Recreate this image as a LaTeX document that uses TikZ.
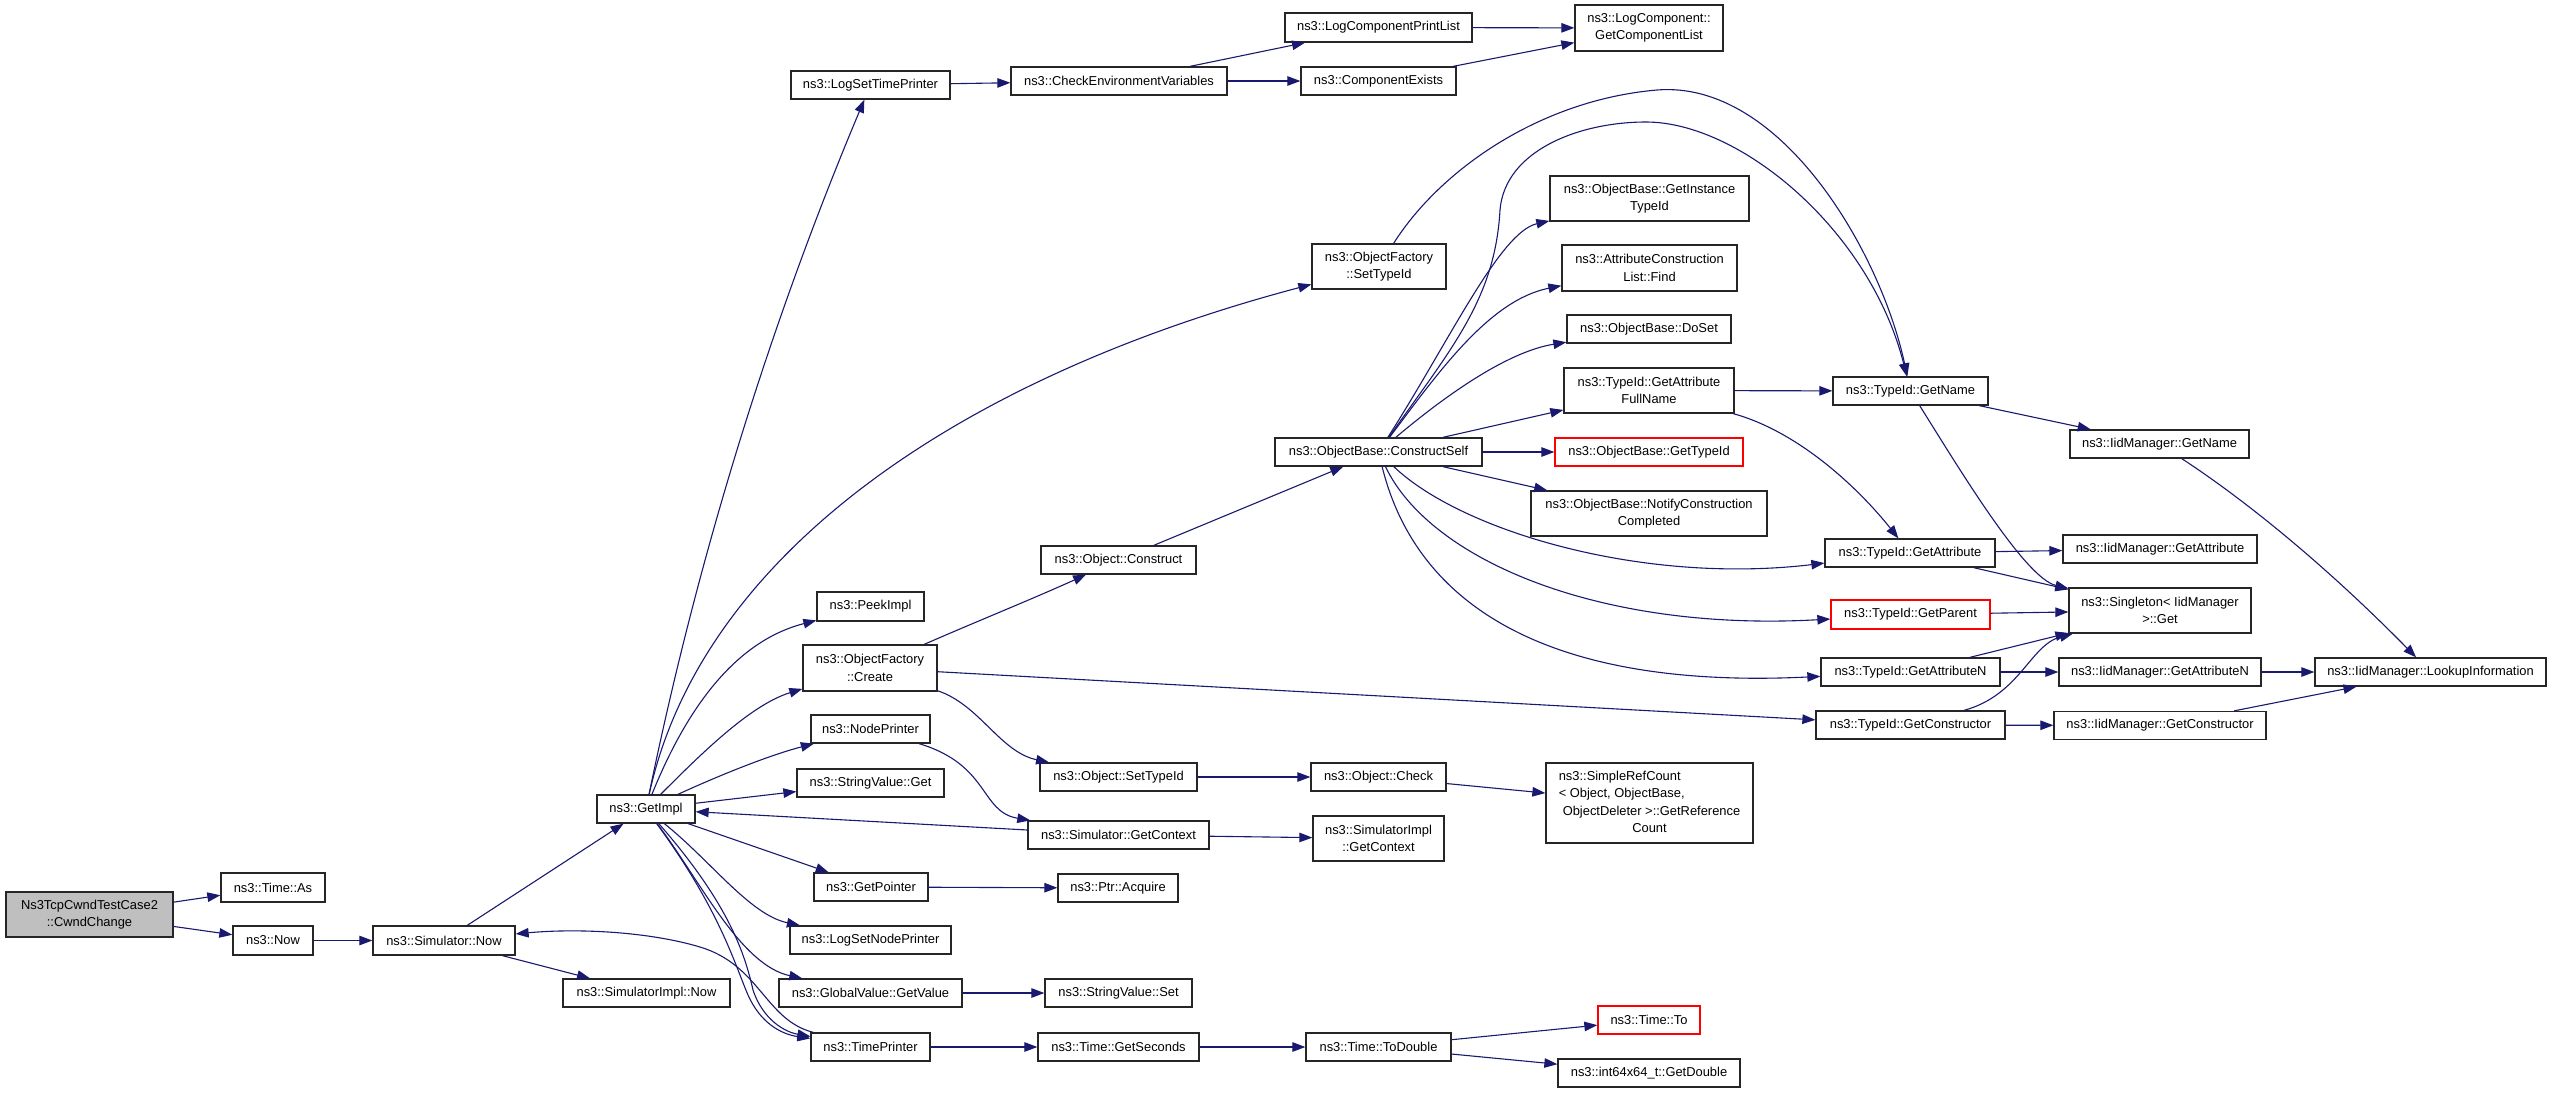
\documentclass[tikz,border=0pt]{standalone}
\usepackage{fontspec}
\setmainfont{Liberation Sans}
\usetikzlibrary{arrows.meta}
\definecolor{edgeblue}{HTML}{191970}
\definecolor{nodegray}{HTML}{BFBFBF}
\definecolor{boxred}{HTML}{FF0000}
\tikzset{
  gbox/.style={draw=black!85, line width=1.3bp, fill=white, inner sep=0pt, align=center,
    font=\fontsize{12.9bp}{17.3bp}\selectfont},
  rbox/.style={gbox, draw=boxred},
  sbox/.style={gbox, fill=nodegray},
  call/.style={draw=edgeblue, line width=1.1bp, -{Triangle[length=13bp,width=9.5bp]}},
}
\newcommand\gnode[6]{\node[#1, minimum width=#4bp, minimum height=#5bp] (#2) at (#3) {#6};}
\begin{document}
\begin{tikzpicture}[x=1bp,y=-1bp]
\fill[white] (0,0) rectangle (2552,1093);
\useasboundingbox (0,0) rectangle (2552,1093);
% rank 0-3
\gnode{sbox}{ns3tcp}{89.5,914.5}{167}{45}{Ns3TcpCwndTestCase2\\::CwndChange}
\gnode{gbox}{timeas}{273,887.5}{104}{29}{ns3::Time::As}
\gnode{gbox}{now}{273,940.5}{80}{29}{ns3::Now}
\gnode{gbox}{simnow}{444,940.5}{142}{29}{ns3::Simulator::Now}
\gnode{gbox}{getimpl}{646,809}{98}{28}{ns3::GetImpl}
\gnode{gbox}{simimplnow}{646.5,993}{167}{28}{ns3::SimulatorImpl::Now}
% rank 4
\gnode{gbox}{lst}{870.5,85}{159}{28}{ns3::LogSetTimePrinter}
\gnode{gbox}{peekimpl}{870.5,606.5}{107}{29}{ns3::PeekImpl}
\gnode{gbox}{ofcreate}{870,668}{134}{46}{ns3::ObjectFactory\\::Create}
\gnode{gbox}{nodeprinter}{870.5,729}{119}{28}{ns3::NodePrinter}
\gnode{gbox}{svget}{870.5,783}{147}{28}{ns3::StringValue::Get}
\gnode{gbox}{getpointer}{871,887}{114}{28}{ns3::GetPointer}
\gnode{gbox}{lsnp}{870.5,940}{161}{28}{ns3::LogSetNodePrinter}
\gnode{gbox}{gvgetvalue}{870.5,993}{183}{28}{ns3::GlobalValue::GetValue}
\gnode{gbox}{timeprinter}{870.5,1047}{119}{28}{ns3::TimePrinter}
% rank 5
\gnode{gbox}{cev}{1119,81}{216}{28}{ns3::CheckEnvironmentVariables}
\gnode{gbox}{objconstruct}{1118.5,560}{155}{28}{ns3::Object::Construct}
\gnode{gbox}{objsettypeid}{1118.5,777}{157}{28}{ns3::Object::SetTypeId}
\gnode{gbox}{simgetcontext}{1118.5,835}{181}{28}{ns3::Simulator::GetContext}
\gnode{gbox}{ptracquire}{1118,888}{120}{28}{ns3::Ptr::Acquire}
\gnode{gbox}{svset}{1118.5,993}{147}{28}{ns3::StringValue::Set}
\gnode{gbox}{getseconds}{1118.5,1047}{161}{28}{ns3::Time::GetSeconds}
% rank 6
\gnode{gbox}{lcpl}{1378.5,27.5}{187}{29}{ns3::LogComponentPrintList}
\gnode{gbox}{compexists}{1378.5,81}{155}{28}{ns3::ComponentExists}
\gnode{gbox}{ofsettypeid}{1379,266.5}{134}{45}{ns3::ObjectFactory\\::SetTypeId}
\gnode{gbox}{constructself}{1378.5,452}{207}{28}{ns3::ObjectBase::ConstructSelf}
\gnode{gbox}{objcheck}{1378.5,777}{135}{28}{ns3::Object::Check}
\gnode{gbox}{simimplgetctx}{1378.5,838.5}{131}{45}{ns3::SimulatorImpl\\::GetContext}
\gnode{gbox}{todouble}{1378.5,1047}{145}{28}{ns3::Time::ToDouble}
% rank 7
\gnode{gbox}{getcomplist}{1649,28}{148}{46}{ns3::LogComponent::\\GetComponentList}
\gnode{gbox}{getinsttypeid}{1649.5,198.5}{199}{45}{ns3::ObjectBase::GetInstance\\TypeId}
\gnode{gbox}{aclfind}{1649.5,268}{175}{46}{ns3::AttributeConstruction\\List::Find}
\gnode{gbox}{doset}{1649,329}{164}{28}{ns3::ObjectBase::DoSet}
\gnode{gbox}{gafn}{1649,390.5}{170}{45}{ns3::TypeId::GetAttribute\\FullName}
\gnode{rbox}{gettypeid}{1649,452}{188}{28}{ns3::ObjectBase::GetTypeId}
\gnode{gbox}{notifycc}{1649,513.5}{236}{45}{ns3::ObjectBase::NotifyConstruction\\Completed}
\gnode{gbox}{simplerefcount}{1649.5,803}{207}{80}{\begin{tabular}{@{}l@{}}ns3::SimpleRefCount\\< Object, ObjectBase,\\\hspace*{4bp}ObjectDeleter >::GetReference\\\multicolumn{1}{@{}c@{}}{Count}\end{tabular}}
\gnode{rbox}{timeto}{1649,1020}{102}{28}{ns3::Time::To}
\gnode{gbox}{int64}{1649,1073}{182}{28}{ns3::int64x64\_t::GetDouble}
% rank 8
\gnode{gbox}{tgetname}{1910.5,391}{155}{28}{ns3::TypeId::GetName}
\gnode{gbox}{tgetattr}{1910,553}{170}{28}{ns3::TypeId::GetAttribute}
\gnode{rbox}{tgetparent}{1910.5,614.5}{159}{29}{ns3::TypeId::GetParent}
\gnode{gbox}{tgetattrn}{1910.5,672}{179}{28}{ns3::TypeId::GetAttributeN}
\gnode{gbox}{tgetctor}{1910.5,725}{189}{28}{ns3::TypeId::GetConstructor}
% rank 9
\gnode{gbox}{igetname}{2159.5,444}{179}{28}{ns3::IidManager::GetName}
\gnode{gbox}{igetattr}{2160,549}{194}{28}{ns3::IidManager::GetAttribute}
\gnode{gbox}{singleton}{2160,610.5}{182}{45}{ns3::Singleton< IidManager\\>::Get}
\gnode{gbox}{igetattrn}{2160,672}{202}{28}{ns3::IidManager::GetAttributeN}
\gnode{gbox}{igetctor}{2160,725.5}{212}{28}{ns3::IidManager::GetConstructor}
% rank 10
\gnode{gbox}{lookup}{2430.5,672}{231}{28}{ns3::IidManager::LookupInformation}
% edges
\draw[call] (ns3tcp) -- (timeas);
\draw[call] (ns3tcp) -- (now);
\draw[call] (now) -- (simnow);
\draw[call] (simnow) -- (getimpl);
\draw[call] (simnow) -- (simimplnow);
\draw[call] (getimpl) .. controls (698,556) and (770,324) .. (lst);
\draw[call] (getimpl) .. controls (700,560) and (950,380) .. (ofsettypeid);
\draw[call] (getimpl) .. controls (690,700) and (740,640) .. (peekimpl);
\draw[call] (getimpl) .. controls (700,755) and (750,705) .. (ofcreate);
\draw[call] (getimpl) .. controls (720,775) and (770,755) .. (nodeprinter);
\draw[call] (getimpl) -- (svget);
\draw[call] (getimpl) -- (getpointer);
\draw[call] (getimpl) .. controls (710,860) and (750,915) .. (lsnp);
\draw[call] (getimpl) .. controls (700,880) and (740,965) .. (gvgetvalue);
\draw[call] (getimpl) .. controls (720,910) and (735,965) .. (748,995) .. controls (760,1022) and (780,1034) .. (timeprinter);
\draw[call] (getimpl) .. controls (730,905) and (745,955) .. (753,990) .. controls (763,1020) and (785,1032) .. (timeprinter);
\draw[call] (timeprinter) .. controls (765,1020) and (760,965) .. (700,947) .. controls (650,932) and (580,928) .. (simnow);
\draw[call] (simgetcontext) -- (getimpl);
\draw[call] (nodeprinter) .. controls (990,765) and (980,812) .. (simgetcontext);
\draw[call] (ofcreate) .. controls (980,620) and (1030,600) .. (objconstruct);
\draw[call] (ofcreate) .. controls (980,705) and (1000,752) .. (objsettypeid);
\draw[call] (ofcreate) -- (tgetctor);
\draw[call] (getpointer) -- (ptracquire);
\draw[call] (gvgetvalue) -- (svset);
\draw[call] (timeprinter) -- (getseconds);
\draw[call] (lst) -- (cev);
\draw[call] (cev) -- (lcpl);
\draw[call] (cev) -- (compexists);
\draw[call] (lcpl) -- (getcomplist);
\draw[call] (compexists) -- (getcomplist);
\draw[call] (objconstruct) -- (constructself);
\draw[call] (objsettypeid) -- (objcheck);
\draw[call] (simgetcontext) -- (simimplgetctx);
\draw[call] (getseconds) -- (todouble);
\draw[call] (objcheck) -- (simplerefcount);
\draw[call] (todouble) -- (timeto);
\draw[call] (todouble) -- (int64);
\draw[call] (ofsettypeid) .. controls (1440,170) and (1540,100) .. (1657,90) .. controls (1780,80) and (1880,250) .. (tgetname);
\draw[call] (constructself) .. controls (1450,350) and (1495,300) .. (1500,210) .. controls (1505,150) and (1580,122) .. (1646,122) .. controls (1740,122) and (1870,230) .. (tgetname);
\draw[call] (constructself) .. controls (1450,340) and (1500,232) .. (getinsttypeid);
\draw[call] (constructself) .. controls (1440,370) and (1490,300) .. (aclfind);
\draw[call] (constructself) .. controls (1440,400) and (1505,352) .. (doset);
\draw[call] (constructself) -- (gafn);
\draw[call] (constructself) -- (gettypeid);
\draw[call] (constructself) -- (notifycc);
\draw[call] (constructself) .. controls (1460,530) and (1640,585) .. (tgetattr);
\draw[call] (constructself) .. controls (1430,560) and (1600,632) .. (tgetparent);
\draw[call] (constructself) .. controls (1415,600) and (1540,690) .. (tgetattrn);
\draw[call] (gafn) -- (tgetname);
\draw[call] (gafn) .. controls (1800,432) and (1860,490) .. (tgetattr);
\draw[call] (tgetname) -- (igetname);
\draw[call] (tgetname) .. controls (1960,470) and (2025,578) .. (singleton);
\draw[call] (tgetattr) -- (igetattr);
\draw[call] (tgetattr) -- (singleton);
\draw[call] (tgetparent) -- (singleton);
\draw[call] (tgetattrn) -- (singleton);
\draw[call] (tgetattrn) -- (igetattrn);
\draw[call] (tgetctor) .. controls (2020,695) and (2030,645) .. (singleton);
\draw[call] (tgetctor) -- (igetctor);
\draw[call] (igetname) .. controls (2260,510) and (2340,580) .. (lookup);
\draw[call] (igetattrn) -- (lookup);
\draw[call] (igetctor) -- (lookup);
\end{tikzpicture}
\end{document}
